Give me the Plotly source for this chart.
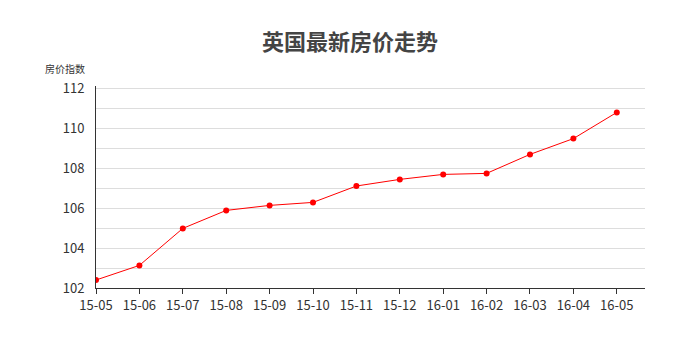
import plotly.graph_objects as go

months = ["15-05", "15-06", "15-07", "15-08", "15-09", "15-10", "15-11",
          "15-12", "16-01", "16-02", "16-03", "16-04", "16-05"]
index_values = [102.4, 103.13, 104.98, 105.88, 106.13, 106.28, 107.1,
                107.43, 107.68, 107.73, 108.68, 109.47, 110.78]

FONT = "Noto Sans CJK SC"

fig = go.Figure()
fig.add_trace(go.Scatter(
    x=list(range(len(months))), y=index_values,
    mode="lines+markers",
    line=dict(color="#ff0000", width=1),
    marker=dict(color="#ff0000", size=6),
    hoverinfo="x+y",
))

fig.update_layout(
    width=700, height=340,
    margin=dict(l=96, r=55, t=86, b=52),
    paper_bgcolor="white", plot_bgcolor="white",
    showlegend=False,
    font=dict(family=FONT, color="#333333", size=13),
    title=dict(text="<b>英国最新房价走势</b>", x=0.5, xanchor="center",
               y=1 - 42 / 340, yanchor="middle",
               font=dict(family=FONT, size=22, color="#444444")),
)

fig.update_xaxes(
    range=[0, 12.65],
    tickmode="array", tickvals=list(range(len(months))), ticktext=months,
    showgrid=False, zeroline=False,
    showline=True, linecolor="#333333", linewidth=1,
    ticks="outside", ticklen=5, tickcolor="#333333",
    tickfont=dict(size=13, color="#333333"),
)
fig.update_yaxes(
    range=[102, 112.1],
    tick0=102, dtick=2,
    showgrid=True, gridcolor="#dddddd", gridwidth=1,
    minor=dict(dtick=1, showgrid=True, gridcolor="#dddddd"),
    zeroline=False,
    showline=True, linecolor="#333333", linewidth=1,
    ticks="", ticklabelstandoff=8,
    tickfont=dict(size=13, color="#333333"),
)

fig.add_annotation(
    text="房价指数", xref="paper", yref="paper", x=0, y=1,
    xanchor="right", yanchor="bottom", xshift=-9, yshift=8,
    showarrow=False, font=dict(family=FONT, size=10, color="#333333"),
)

fig.write_html("out.html")
